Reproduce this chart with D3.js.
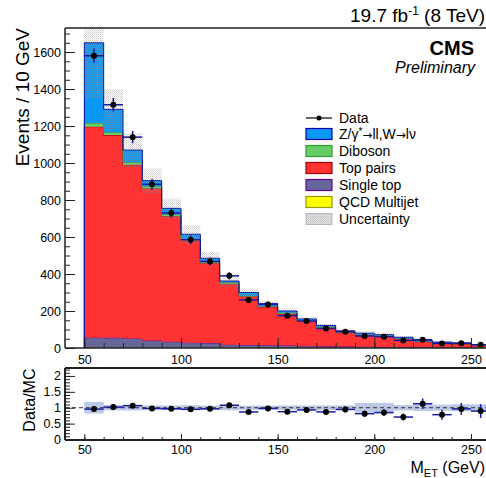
<!DOCTYPE html>
<html><head><meta charset="utf-8">
<script src="https://cdn.jsdelivr.net/npm/d3@7/dist/d3.min.js"></script>
<style>
body{margin:0;background:#fff}
svg{display:block}
text{font-family:"Liberation Sans",Arial,Helvetica,sans-serif;fill:#000}
</style>
</head><body>
<script>
// ---- data ----
const binEdges = [50,60,70,80,90,100,110,120,130,140,150,160,170,180,190,200,210,220,230,240,250,260];
const qcdMultijet = [3,3,2,2,2,2,1,1,1,1,1,1,1,1,1,0,0,0,0,0,0];
const singleTop   = [53,52,50,38,32,27,26,17,15,14,13,9,8,7,6,5,4,4,3,3,2];
const topPairs    = [1140,1096,937,822,678,551,431,330,262,207,171,135,101,77,63,59,46,30,24,19,13];
const diboson     = [20,15,15,12,10,8,7,6,5,4,4,3,3,2,2,2,2,1,1,1,1];
const zwJets      = [434,124,66,31,33,27,20,8,17,14,11,9,9,6,8,6,6,5,4,4,3];
const uncertainty = [300,110,92,66,54,50,32,30,20,16,14,11,9,7,12,11,5,4,3,3,2];
const dataCounts  = [1580,1315,1140,885,730,585,468,390,260,235,175,146,106,88,65,61,41,45,25,26,17];
const xMajorTicks = [50,100,150,200,250];
const yMajorTicks = [0,200,400,600,800,1000,1200,1400,1600];
const ratioMajorTicks = [0,0.5,1,1.5,2];
const ratioTickLabels = ["0","0.5","1","1.5","2"];

const procKeys   = ["qcd","single","ttbar","diboson","zw"];
const procSeries = [qcdMultijet, singleTop, topPairs, diboson, zwJets];
const procFill   = {qcd:"#ffff00", single:"#666699", ttbar:"#ff3333", diboson:"#66cc66", zw:"#0a98f5"};
const procLine   = {qcd:"#999900", single:"#660099", ttbar:"#aa0000", diboson:"#339933", zw:"#0000aa"};
const legendItems = [
  {type:"data", label:"Data"},
  {type:"box", key:"zw", label:"Z/γ*→ll,W→lν"},
  {type:"box", key:"diboson", label:"Diboson"},
  {type:"box", key:"ttbar", label:"Top pairs"},
  {type:"box", key:"single", label:"Single top"},
  {type:"box", key:"qcd", label:"QCD Multijet"},
  {type:"unc", label:"Uncertainty"}
];

// ---- build rows ----
const rows = binEdges.slice(0,-1).map((lo,i)=>{
  const r = {lo, hi: binEdges[i+1], data: dataCounts[i], unc: uncertainty[i]};
  procKeys.forEach((k,j)=> r[k] = procSeries[j][i]);
  r.total = procKeys.reduce((s,k)=>s+r[k],0);
  r.ratio = r.data / r.total;
  r.ratioErr = Math.sqrt(r.data) / r.total;
  r.relUnc = r.unc / r.total;
  return r;
});

const W=486, H=478;
const svg = d3.select("body").append("svg").attr("width",W).attr("height",H);
const defs = svg.append("defs");
const pat = defs.append("pattern").attr("id","hatch").attr("patternUnits","userSpaceOnUse")
  .attr("width",2).attr("height",2);
pat.append("rect").attr("x",0).attr("y",0).attr("width",1).attr("height",1).attr("fill","#8a8a8a").attr("opacity",0.45);
pat.append("rect").attr("x",1).attr("y",1).attr("width",1).attr("height",1).attr("fill","#a0a0a0").attr("opacity",0.35);

const x  = d3.scaleLinear().domain([40,260]).range([65,490.3]);
const y  = d3.scaleLinear().domain([0,1730]).range([348,28]);
const yr = d3.scaleLinear().domain([0,2.25]).range([439.5,368]);

defs.append("clipPath").attr("id","clipMain").append("rect")
  .attr("x",65).attr("y",28).attr("width",430).attr("height",320);
defs.append("clipPath").attr("id","clipRatio").append("rect")
  .attr("x",65).attr("y",368).attr("width",430).attr("height",72);

// ---- main stacked histogram ----
const stack = d3.stack().keys(procKeys)(rows);
const gMain = svg.append("g").attr("clip-path","url(#clipMain)");
const stepArea = d3.area().x(d=>x(d.x)).y0(d=>y(d.y0)).y1(d=>y(d.y1));
const stepLine = d3.line().x(d=>x(d.x)).y(d=>y(d.y1));
stack.forEach(layer=>{
  const pts = [];
  layer.forEach(s=>{
    pts.push({x:s.data.lo, y0:s[0], y1:s[1]});
    pts.push({x:s.data.hi, y0:s[0], y1:s[1]});
  });
  gMain.append("path").attr("d",stepArea(pts)).attr("fill",procFill[layer.key]);
  const first = pts[0], last = pts[pts.length-1];
  const linePts = [{x:first.x,y1:0}].concat(pts).concat([{x:last.x,y1:0}]);
  gMain.append("path").attr("d",stepLine(linePts)).attr("fill","none")
    .attr("stroke",procLine[layer.key]).attr("stroke-width",1);
});
// uncertainty band
gMain.selectAll("rect.unc").data(rows).join("rect")
  .attr("x",d=>x(d.lo)).attr("width",d=>x(d.hi)-x(d.lo))
  .attr("y",d=>y(d.total+d.unc)).attr("height",d=>y(d.total-d.unc)-y(d.total+d.unc))
  .attr("fill","url(#hatch)");

// data points
const errColor = "#1a1aa0";
const gData = svg.append("g");
rows.forEach(d=>{
  const cx = x((d.lo+d.hi)/2), cy = y(d.data), e = Math.sqrt(d.data);
  gData.append("line").attr("x1",x(d.lo)).attr("x2",x(d.hi)).attr("y1",cy).attr("y2",cy)
    .attr("stroke",errColor).attr("stroke-width",1.5);
  gData.append("line").attr("x1",cx).attr("x2",cx).attr("y1",y(d.data+e)).attr("y2",y(d.data-e))
    .attr("stroke",errColor).attr("stroke-width",1.5);
  gData.append("circle").attr("cx",cx).attr("cy",cy).attr("r",3).attr("fill","#000");
});

// ---- main axes ----
const axisCol = "#222";
const gxMinor = svg.append("g").attr("transform","translate(0,348)")
  .call(d3.axisBottom(x).tickValues(d3.range(50,261,10)).tickSize(-5).tickFormat(""));
const gx = svg.append("g").attr("transform","translate(0,348)")
  .call(d3.axisBottom(x).tickValues(xMajorTicks).tickSize(-10).tickPadding(5).tickFormat(d3.format("d")));
const gyMinor = svg.append("g").attr("transform","translate(65,0)")
  .call(d3.axisLeft(y).tickValues(d3.range(0,1730,50)).tickSize(-5).tickFormat(""));
const gy = svg.append("g").attr("transform","translate(65,0)")
  .call(d3.axisLeft(y).tickValues(yMajorTicks).tickSize(-10).tickPadding(4).tickFormat(d3.format("d")));
[gxMinor,gx,gyMinor,gy].forEach(g=>{
  g.select(".domain").remove();
  g.selectAll("line").attr("stroke",axisCol);
  g.selectAll("text").attr("font-size",12.5).attr("font-family",'"Liberation Sans",Arial,sans-serif').attr("fill","#000");
});
gx.selectAll("text").attr("dy","0.9em");
// frame
svg.append("path").attr("d","M65,28H486 M65,28V348 M65,348H486").attr("fill","none")
  .attr("stroke",axisCol).attr("stroke-width",1.5);

// ---- ratio panel ----
const gRatio = svg.append("g").attr("clip-path","url(#clipRatio)");
gRatio.selectAll("rect.rb").data(rows).join("rect")
  .attr("x",d=>x(d.lo)).attr("width",d=>x(d.hi)-x(d.lo))
  .attr("y",d=>yr(1+d.relUnc)).attr("height",d=>yr(1-d.relUnc)-yr(1+d.relUnc))
  .attr("fill","#a9c0ee").attr("opacity",0.75);
gRatio.selectAll("rect.rh").data(rows).join("rect")
  .attr("x",d=>x(d.lo)).attr("width",d=>x(d.hi)-x(d.lo))
  .attr("y",d=>yr(1+d.relUnc)).attr("height",d=>yr(1-d.relUnc)-yr(1+d.relUnc))
  .attr("fill","url(#hatch)").attr("opacity",0.6);
gRatio.append("line").attr("x1",65).attr("x2",490).attr("y1",yr(1)).attr("y2",yr(1))
  .attr("stroke","#333").attr("stroke-width",1).attr("stroke-dasharray","4,3");
rows.forEach(d=>{
  const cx = x((d.lo+d.hi)/2), cy = yr(d.ratio);
  gRatio.append("line").attr("x1",x(d.lo)).attr("x2",x(d.hi)).attr("y1",cy).attr("y2",cy)
    .attr("stroke",errColor).attr("stroke-width",1.5);
  gRatio.append("line").attr("x1",cx).attr("x2",cx).attr("y1",yr(d.ratio+d.ratioErr)).attr("y2",yr(d.ratio-d.ratioErr))
    .attr("stroke",errColor).attr("stroke-width",1.5);
  gRatio.append("circle").attr("cx",cx).attr("cy",cy).attr("r",3).attr("fill","#000");
});
const rxMinor = svg.append("g").attr("transform","translate(0,440)")
  .call(d3.axisBottom(x).tickValues(d3.range(50,261,10)).tickSize(-3).tickFormat(""));
const rx = svg.append("g").attr("transform","translate(0,440)")
  .call(d3.axisBottom(x).tickValues(xMajorTicks).tickSize(-6).tickPadding(3).tickFormat(d3.format("d")));
const ryMinor = svg.append("g").attr("transform","translate(65,0)")
  .call(d3.axisLeft(yr).tickValues(d3.range(0,2.25,0.1)).tickSize(-5).tickFormat(""));
const ry = svg.append("g").attr("transform","translate(65,0)")
  .call(d3.axisLeft(yr).tickValues(ratioMajorTicks).tickSize(-10).tickPadding(4)
    .tickFormat((v,i)=>ratioTickLabels[i]));
[rxMinor,rx,ryMinor,ry].forEach(g=>{
  g.select(".domain").remove();
  g.selectAll("line").attr("stroke",axisCol);
  g.selectAll("text").attr("font-size",12.5).attr("font-family",'"Liberation Sans",Arial,sans-serif').attr("fill","#000");
});
rx.selectAll("text").attr("dy","0.9em");
svg.append("path").attr("d","M65,368H486 M65,368V440 M65,440H486").attr("fill","none")
  .attr("stroke",axisCol).attr("stroke-width",2);

// ---- titles ----
const t1 = svg.append("text").attr("x",485).attr("y",22).attr("text-anchor","end").attr("font-size",19);
t1.append("tspan").text("19.7 fb");
t1.append("tspan").attr("dy",-7).attr("font-size",12).text("-1");
t1.append("tspan").attr("dy",7).text(" (8 TeV)");
svg.append("text").attr("x",474).attr("y",55).attr("text-anchor","end").attr("font-size",20)
  .attr("font-weight","bold").text("CMS");
svg.append("text").attr("x",475).attr("y",73).attr("text-anchor","end").attr("font-size",16)
  .attr("font-style","italic").text("Preliminary");
svg.append("text").attr("transform","translate(29,28) rotate(-90)").attr("text-anchor","end")
  .attr("font-size",19).text("Events / 10 GeV");
svg.append("text").attr("transform","translate(35,368.5) rotate(-90)").attr("text-anchor","end")
  .attr("font-size",16).text("Data/MC");
const xt = svg.append("text").attr("x",485).attr("y",473).attr("text-anchor","end").attr("font-size",16);
xt.append("tspan").text("M");
xt.append("tspan").attr("dy",4).attr("font-size",11).text("ET");
xt.append("tspan").attr("dy",-4).text(" (GeV)");

// ---- legend ----
const legY = [118,134,151,168,185,202,219];
const gLeg = svg.append("g");
legendItems.forEach((it,i)=>{
  const cy = legY[i];
  if(it.type==="data"){
    gLeg.append("line").attr("x1",306).attr("x2",332).attr("y1",cy).attr("y2",cy).attr("stroke","#000").attr("stroke-width",1.2);
    gLeg.append("circle").attr("cx",319).attr("cy",cy).attr("r",2.5).attr("fill","#000");
  } else if(it.type==="box"){
    gLeg.append("rect").attr("x",306).attr("y",cy-5.5).attr("width",26).attr("height",11)
      .attr("fill",procFill[it.key]).attr("stroke",procLine[it.key]).attr("stroke-width",1.2);
  } else {
    gLeg.append("rect").attr("x",306).attr("y",cy-5.5).attr("width",26).attr("height",11)
      .attr("fill","#e6e6e6").attr("stroke","#bbb").attr("stroke-width",1);
    gLeg.append("rect").attr("x",306).attr("y",cy-5.5).attr("width",26).attr("height",11)
      .attr("fill","url(#hatch)");
  }
  const tx = gLeg.append("text").attr("x",339).attr("y",cy+5).attr("font-size",14);
  if(it.key==="zw"){
    const arrowFont = '"DejaVu Sans",sans-serif';
    tx.append("tspan").text("Z/γ");
    tx.append("tspan").attr("dy",-4).attr("font-size",10).text("*");
    tx.append("tspan").attr("dy",4).attr("font-family",arrowFont).attr("font-size",12).text("→");
    tx.append("tspan").text("ll,W");
    tx.append("tspan").attr("font-family",arrowFont).attr("font-size",12).text("→");
    tx.append("tspan").text("lν");
  } else tx.text(it.label);
});
</script>
</body></html>
